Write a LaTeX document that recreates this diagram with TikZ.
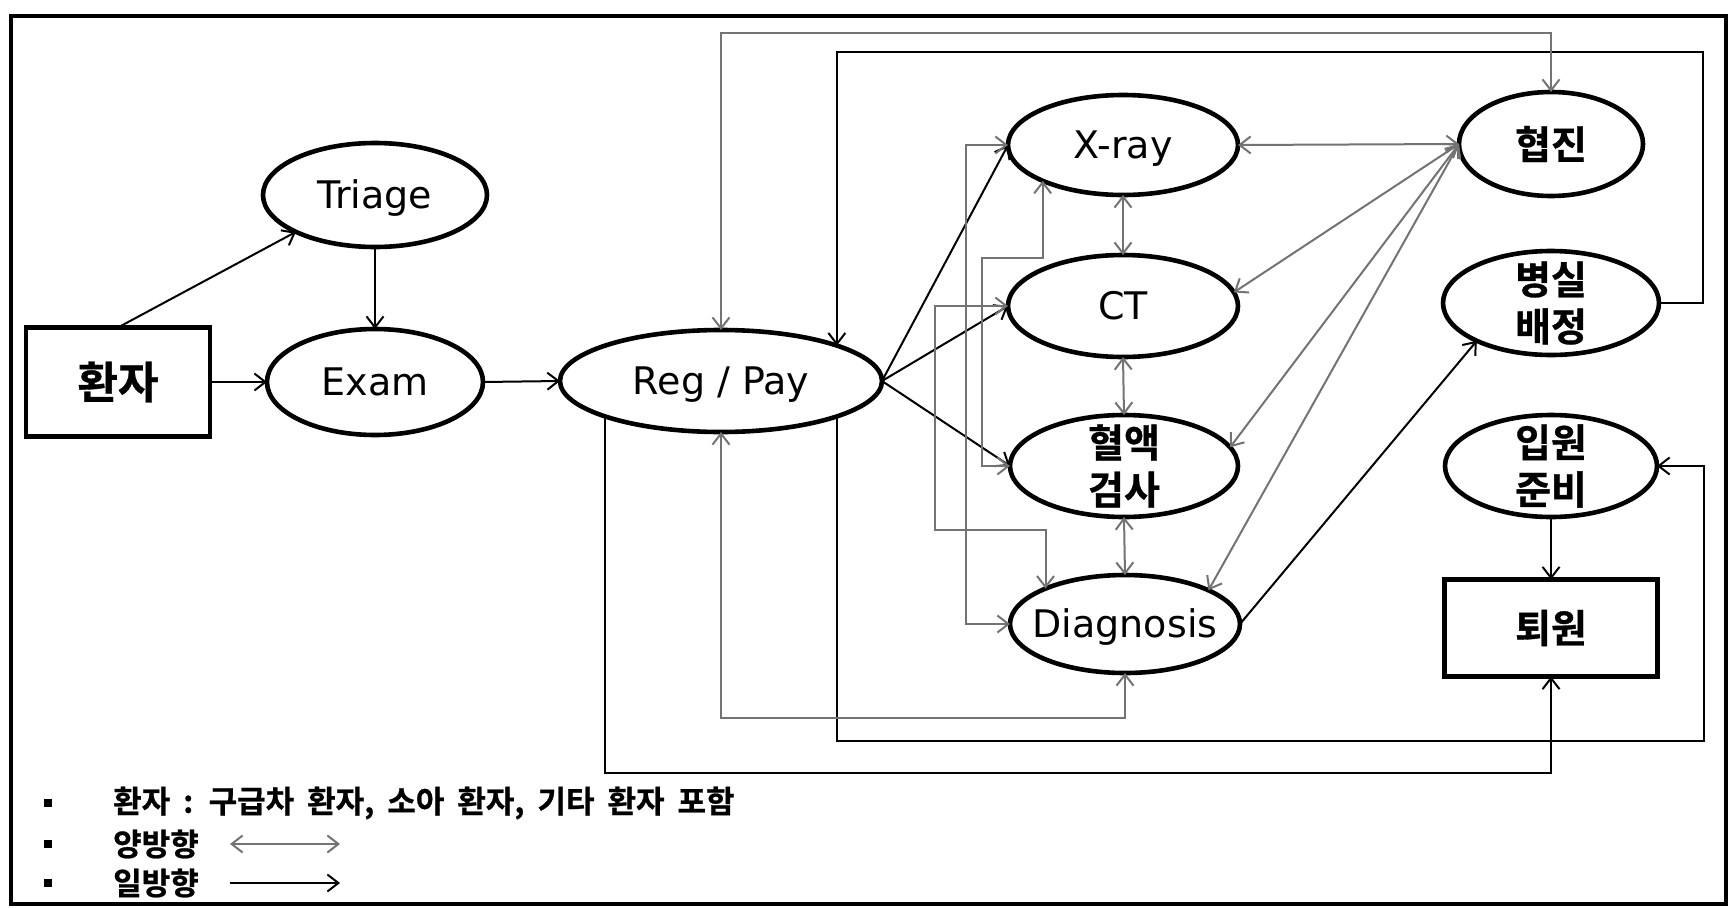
\documentclass[tikz,border=0pt]{standalone}
\usepackage{fontspec}
\setmainfont{DejaVu Sans}
\newfontfamily\krb[FakeBold=0.8]{Noto Sans CJK KR Bold}
\usetikzlibrary{shapes.geometric,arrows.meta}
\tikzset{barb/.tip={Straight Barb[length=11pt,width=17pt]}}
\begin{document}
\begin{tikzpicture}[x=1pt,y=-1pt,
  ell/.style={draw, line width=4.6pt, ellipse, inner sep=0pt, outer sep=0pt},
  boxn/.style={draw, line width=4.2pt, rectangle, inner sep=0pt, outer sep=0pt},
  lat/.style={font=\fontsize{38}{44}\selectfont, text height=27.5pt, text depth=0pt, inner sep=0pt},
  kor/.style={font=\krb\fontsize{39}{47}\selectfont, align=center, inner sep=0pt},
  leg/.style={font=\krb\fontsize{31}{32}\selectfont, anchor=west, inner sep=0pt},
  bul/.style={fill=black, minimum size=8pt, inner sep=0pt},
  one/.style={draw=black, line width=2pt, -barb},
  two/.style={draw=black!55, line width=2pt, barb-barb},
]
\useasboundingbox (0,0) rectangle (1731,907);
\draw[line width=3.5pt] (11,16) rectangle (1726,904);

% nodes
\node[boxn, minimum width=184pt, minimum height=109pt, font=\krb\fontsize{44}{50}\selectfont] (pat) at (118,382) {환자};
\node[ell, minimum width=224pt, minimum height=104pt] (tri) at (375,195) {};
\node[lat] (tri-t) at (tri) {Triage};
\node[ell, minimum width=216pt, minimum height=106pt] (exam) at (375,382) {};
\node[lat] (exam-t) at (exam) {Exam};
\node[ell, minimum width=322pt, minimum height=102pt] (reg) at (721,381) {};
\node[lat] (reg-t) at (reg) {Reg / Pay};
\node[ell, minimum width=230pt, minimum height=100pt] (xray) at (1123,145) {};
\node[lat] (xray-t) at (xray) {X-ray};
\node[ell, minimum width=230pt, minimum height=102pt] (ct) at (1123,306) {};
\node[lat] (ct-t) at (ct) {CT};
\node[ell, minimum width=228pt, minimum height=102pt] (blood) at (1124,466) {};
\node[kor] (blood-t) at (blood) {혈액\\검사};
\node[ell, minimum width=230pt, minimum height=98pt] (diag) at (1125,624) {};
\node[lat] (diag-t) at (diag) {Diagnosis};
\node[ell, minimum width=184pt, minimum height=104pt] (hyeop) at (1551,144) {};
\node[kor] (hyeop-t) at (hyeop) {협진};
\node[ell, minimum width=216pt, minimum height=104pt] (room) at (1551,303) {};
\node[kor] (room-t) at (room) {병실\\배정};
\node[ell, minimum width=212pt, minimum height=102pt] (adm) at (1551,466) {};
\node[kor] (adm-t) at (adm) {입원\\준비};
\node[boxn, minimum width=213pt, minimum height=97pt, kor] (dis) at (1551,628) {퇴원};

% routing coordinates
\coordinate (c1) at (1703,52);
\coordinate (c2) at (1704,741);
\coordinate (c3) at (1551,773);
\coordinate (c4) at (1551,33);
\coordinate (c5) at (1125,718);
\coordinate (c6) at (966,624);
\coordinate (c7) at (935,530);
\coordinate (c8) at (982,258);

% one-way (black)
\draw[one] (pat.north) -- (tri.205);
\draw[one] (tri.south) -- (exam.north);
\draw[one] (pat.east) -- (exam.west);
\draw[one] (exam.east) -- (reg.west);
\draw[one] (reg.east) -- (xray.west);
\draw[one] (reg.east) -- (ct.west);
\draw[one] (reg.east) -- (blood.west);
\draw[one] (room.east) -| (c1) -| (reg.17.5);
\draw[one] (reg.-17.5) |- (c2) |- (adm.east);
\draw[one] (reg.197.5) |- (c3) -- (dis.south);
\draw[one] (adm.south) -- (dis.north);
\draw[one] (diag.east) -- (room.207.5);

% two-way (gray)
\draw[two] (reg.north) |- (c4) -- (hyeop.north);
\draw[two] (reg.south) |- (c5) -- (diag.south);
\draw[two] (xray.south) -- (ct.north);
\draw[two] (ct.south) -- (blood.north);
\draw[two] (blood.south) -- (diag.north);
\draw[two] (hyeop.west) -- (xray.east);
\draw[two] (hyeop.west) -- (ct.7);
\draw[two] (hyeop.west) -- (blood.10);
\draw[two] (hyeop.west) -- (diag.22);
\draw[two] (xray.west) -| (c6) -- (diag.west);
\draw[two] (ct.west) -| (c7) -| (diag.156.4);
\draw[two] (xray.204.2) |- (c8) |- (blood.west);

% legend
\node[bul] (b1) at (48,803) {};
\node[bul] (b2) at (48,844) {};
\node[bul] (b3) at (48,883) {};
\node[leg] (l1) at (113,803) {\spaceskip=13pt\relax 환자 : 구급차 환자, 소아 환자, 기타 환자 포함};
\node[leg] (l2) at (113,844) {양방향};
\node[leg] (l3) at (113,883) {일방향};
\coordinate (a1) at (230,844);
\coordinate (a2) at (340,844);
\coordinate (a3) at (230,883);
\coordinate (a4) at (340,883);
\draw[two] (a1) -- (a2);
\draw[one] (a3) -- (a4);
\end{tikzpicture}
\end{document}
